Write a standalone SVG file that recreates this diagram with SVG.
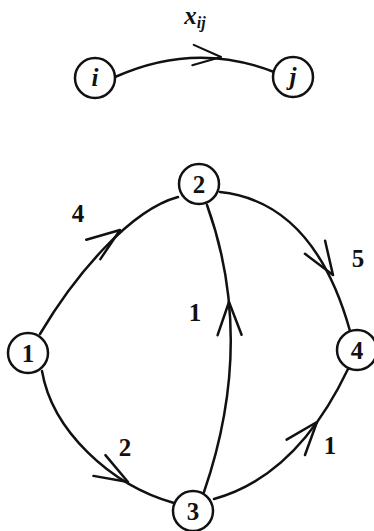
<svg xmlns="http://www.w3.org/2000/svg" width="374" height="531" viewBox="0 0 374 531">
<style>
.n{fill:#fff;stroke:#111;stroke-width:2.5}
.e{fill:none;stroke:#111;stroke-width:2.5;stroke-linecap:round}
.t{font-family:"Liberation Serif","DejaVu Serif",serif;font-size:25px;font-weight:bold;fill:#111;text-anchor:middle}
.m{font-style:italic}
</style>
<defs>
<path id="chev" d="M-33,-12 L0,0 L-33,12" fill="none" stroke="#111" stroke-width="2.5" stroke-linecap="round" stroke-linejoin="round"/>
</defs>
<rect width="374" height="531" fill="#fff"/>
<g id="connectors">
<path class="e" d="M115,77 Q195,41 274,72"/>
<use href="#chev" transform="translate(221,57) rotate(4) scale(0.85)"/>
<path class="e" d="M40,334 C75,275 130,210 178,197"/>
<use href="#chev" transform="translate(120,230) rotate(-36)"/>
<path class="e" d="M220,192 Q314,202 350,331"/>
<use href="#chev" transform="translate(333,275) rotate(57)"/>
<path class="e" d="M204,492 Q256,341 207,205"/>
<use href="#chev" transform="translate(229,302) rotate(-91)"/>
<path class="e" d="M42,371 C52,430 110,485 174,503"/>
<use href="#chev" transform="translate(128,482) rotate(30)"/>
<path class="e" d="M214,499 Q297,476 348,369"/>
<use href="#chev" transform="translate(317,422) rotate(-50)"/>
</g>
<g id="node-i"><circle class="n" cx="95" cy="78" r="20"/><text class="t m" x="95" y="86">i</text></g>
<g id="node-j"><circle class="n" cx="293" cy="77" r="20"/><text class="t m" x="293" y="85">j</text></g>
<g id="label-xij"><text class="t m" x="195" y="24" font-size="27">x<tspan font-size="16" dy="4">ij</tspan></text></g>
<g id="node-1"><circle class="n" cx="28" cy="353" r="20"/><text class="t" x="28" y="362">1</text></g>
<g id="node-2"><circle class="n" cx="199" cy="184" r="20"/><text class="t" x="199" y="193">2</text></g>
<g id="node-3"><circle class="n" cx="193" cy="511" r="20"/><text class="t" x="193" y="520">3</text></g>
<g id="node-4"><circle class="n" cx="357" cy="350" r="20"/><text class="t" x="357" y="359">4</text></g>
<g id="edge-labels">
<text class="t" x="78" y="222">4</text>
<text class="t" x="358" y="267">5</text>
<text class="t" x="195" y="321">1</text>
<text class="t" x="125" y="456">2</text>
<text class="t" x="330" y="454">1</text>
</g>
</svg>
